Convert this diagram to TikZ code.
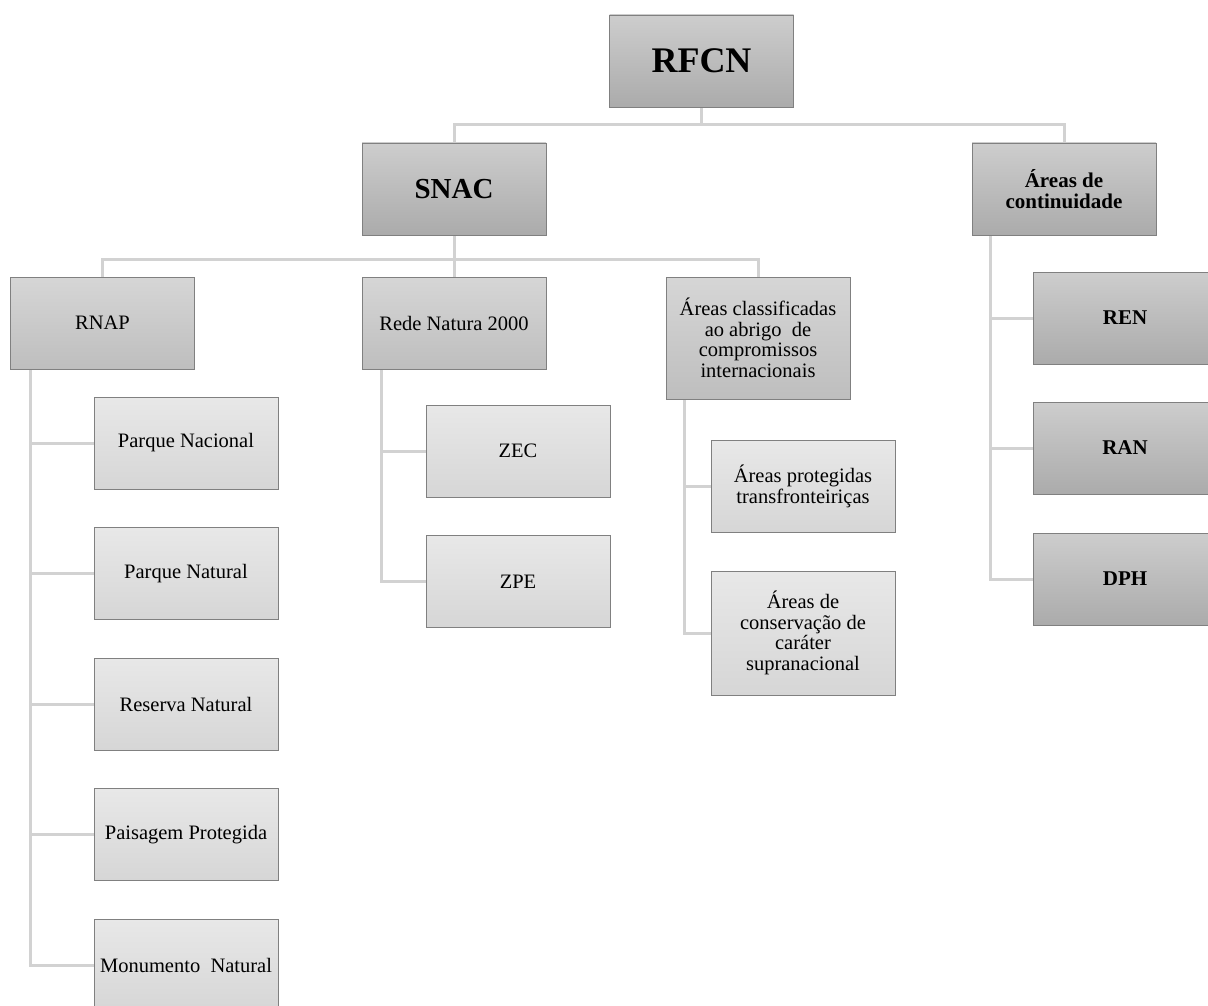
\documentclass[tikz,border=0pt]{standalone}
\usepackage{fontspec}
\setmainfont{Liberation Serif}
\usepackage{tikz}
\usetikzlibrary{positioning,backgrounds}
\definecolor{BoxEdge}{HTML}{808080}
\definecolor{LinkGray}{HTML}{D2D2D2}
\definecolor{DarkTop}{HTML}{CDCDCD}
\definecolor{DarkBottom}{HTML}{ABABAB}
\definecolor{MidTop}{HTML}{D6D6D6}
\definecolor{MidBottom}{HTML}{BEBEBE}
\definecolor{LeafTop}{HTML}{E8E8E8}
\definecolor{LeafBottom}{HTML}{D6D6D6}
\tikzset{
  box/.style={draw=BoxEdge, line width=0.9pt, minimum width=184pt, minimum height=92pt,
    inner sep=2pt, align=center, font=\fontsize{20.5}{20.5}\selectfont},
  topbox/.style={box, top color=DarkTop, bottom color=DarkBottom},
  midbox/.style={box, top color=MidTop, bottom color=MidBottom},
  leafbox/.style={box, top color=LeafTop, bottom color=LeafBottom},
  link/.style={draw=LinkGray, line width=3pt},
}

\begin{document}
\begin{tikzpicture}[x=1pt, y=-1pt]
    \useasboundingbox (0,0) rectangle (1208,1006);

    % top levels
    \node[topbox, font=\fontsize{36}{36}\selectfont\bfseries] (rfcn) at (701.5,61) {RFCN};
    \node[topbox, font=\fontsize{29}{29}\selectfont\bfseries] (snac) at (454,189) {SNAC};
    \node[topbox, font=\fontsize{21}{21}\selectfont\bfseries] (cont) at (1064,189) {Áreas de\\continuidade};

    % SNAC branches
    \node[midbox] (rnap) at (102.5,323) {RNAP};
    \node[midbox] (natura) at (454,323) {Rede Natura 2000};
    \node[midbox, minimum height=122pt] (intl) at (758,338)
      {Áreas classificadas\\ao abrigo\ \ de\\compromissos\\internacionais};

    % RNAP
    \node[leafbox] (pnac) at (186,443) {Parque Nacional};
    \node[leafbox] (pnat) at (186,573.5) {Parque Natural};
    \node[leafbox] (rnat) at (186,704) {Reserva Natural};
    \node[leafbox] (ppro) at (186,834.5) {Paisagem Protegida};
    \node[leafbox] (mnat) at (186,965) {Monumento\ \ Natural};

    % Rede Natura 2000
    \node[leafbox] (zec) at (518,451) {ZEC};
    \node[leafbox] (zpe) at (518,581.5) {ZPE};

    % compromissos internacionais
    \node[leafbox] (trans) at (803,486.5) {Áreas protegidas\\transfronteiriças};
    \node[leafbox, minimum height=124pt] (supra) at (803,633)
      {Áreas de\\conservação de\\caráter\\supranacional};

    % continuidade
    \node[topbox, font=\fontsize{21}{21}\selectfont\bfseries] (ren) at (1125,318) {REN};
    \node[topbox, font=\fontsize{21}{21}\selectfont\bfseries] (ran) at (1125,448) {RAN};
    \node[topbox, font=\fontsize{21}{21}\selectfont\bfseries] (dph) at (1125,579) {DPH};

    \begin{pgfonlayer}{background}
      \draw[link] (rfcn.south) -- ++(0,17) -| (snac.north);
      \draw[link] (rfcn.south) -- ++(0,17) -| (cont.north);
      \draw[link] (snac.south) -- ++(0,24) -| (rnap.north);
      \draw[link] (snac.south) -- (natura.north);
      \draw[link] (snac.south) -- ++(0,24) -| (intl.north);
      \draw[link] ([xshift=20pt]rnap.south west) |- (pnac.west);
      \draw[link] ([xshift=20pt]rnap.south west) |- (pnat.west);
      \draw[link] ([xshift=20pt]rnap.south west) |- (rnat.west);
      \draw[link] ([xshift=20pt]rnap.south west) |- (ppro.west);
      \draw[link] ([xshift=20pt]rnap.south west) |- (mnat.west);
      \draw[link] ([xshift=20pt]natura.south west) |- (zec.west);
      \draw[link] ([xshift=20pt]natura.south west) |- (zpe.west);
      \draw[link] ([xshift=19pt]intl.south west) |- (trans.west);
      \draw[link] ([xshift=19pt]intl.south west) |- (supra.west);
      \draw[link] ([xshift=19pt]cont.south west) |- (ren.west);
      \draw[link] ([xshift=19pt]cont.south west) |- (ran.west);
      \draw[link] ([xshift=19pt]cont.south west) |- (dph.west);
    \end{pgfonlayer}
\end{tikzpicture}
\end{document}
